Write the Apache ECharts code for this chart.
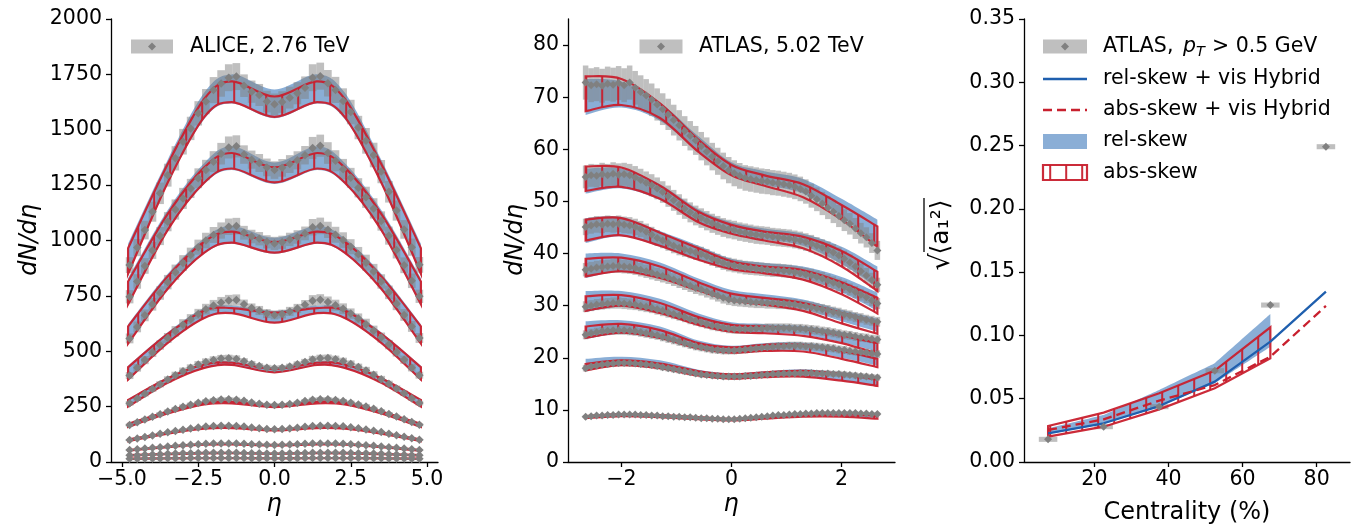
<!DOCTYPE html>
<html><head><meta charset="utf-8">
<script src="https://cdn.jsdelivr.net/npm/echarts@6/dist/echarts.min.js"></script>
<style>html,body{margin:0;padding:0;background:#fff}#c{width:1360px;height:525px}</style>
</head><body><div id="c"></div>
<script>
// ---------------- ALICE 2.76 TeV (left panel) ----------------
const etaAlice = [-4.75,-4.5,-4.25,-4,-3.75,-3.5,-3.25,-3,-2.75,-2.5,-2.25,-2,-1.75,-1.5,-1.25,-1,-0.75,-0.5,-0.25,0,
  0.25,0.5,0.75,1,1.25,1.5,1.75,2,2.25,2.5,2.75,3,3.25,3.5,3.75,4,4.25,4.5,4.75];
const aliceCentralities = ['0-5%','5-10%','10-20%','20-30%','30-40%','40-50%','50-60%','60-70%','70-80%','80-90%'];
const alice0005 = [889,968,1047,1130,1213,1295,1371,1446,1506,1574,1627,1679,1709,1735,1740,1699,1672,1657,1627,1615,
  1625,1645,1665,1690,1735,1742,1710,1680,1630,1580,1510,1450,1386,1311,1220,1135,1050,970,890];
const alice0510 = [746,815,885,955,1020,1085,1140,1190,1235,1281,1318,1356,1392,1420,1425,1388,1365,1350,1330,1318,
  1328,1345,1362,1385,1418,1428,1395,1360,1322,1283,1238,1195,1145,1088,1022,957,888,818,748];
const alice1020 = [558,610,662,712,763,812,857,898,935,970,1000,1025,1045,1062,1065,1035,1018,1008,994,987,
  992,1005,1016,1032,1060,1066,1048,1026,1002,972,938,900,860,815,766,714,664,612,560];
const alice2030 = [390,425,460,494,528,560,590,620,645,668,690,707,720,729,731,712,695,684,670,664,
  668,680,693,710,728,732,722,708,692,670,648,622,592,562,530,496,462,426,392];
const alice3040 = [265,287,308,330,351,372,392,410,426,440,452,461,467,468,465,455,443,433,426,423,
  425,431,441,452,463,468,469,464,455,443,429,413,394,374,353,332,310,288,266];
const alice4050 = [167,180,192,204,216,228,239,250,259,267,274,279,282,283,281,276,269,263,259,257,
  258,262,268,275,281,283,283,280,275,268,260,251,240,229,217,205,193,181,168];
const alice5060 = [99,106,113,120,127,134,140,146,151,156,160,162,164,164,163,160,156,152,149,148,
  149,151,155,159,162,164,164,163,161,157,152,147,141,135,128,121,114,107,100];
const alice6070 = [54,57,61,64,67,70,73,76,78,80,82,83,84,84,84,82,80,79,78,77,
  78,79,80,82,84,84,84,83,82,80,78,76,73,70,67,64,61,57,54];
const alice7080 = [30,31,33,34,35,37,38,39,40,41,42,42,42,42,42,41,40,39,38,38,
  38,39,40,41,42,42,42,42,42,41,40,39,38,37,35,34,33,31,30];
const alice8090 = [15,15,16,16,16,17,17,17,18,18,18,18,18,18,18,18,17,17,17,17,
  17,17,17,18,18,18,18,18,18,18,18,17,17,17,16,16,16,15,15];
const aliceSysRel = [0.04,0.04,0.04,0.04,0.04,0.04,0.04,0.04,0.035,0.035,0.035,0.035,0.035,0.035,0.035,0.03,0.03,0.03,0.03,0.03,
  0.03,0.03,0.03,0.03,0.035,0.035,0.035,0.035,0.035,0.035,0.035,0.04,0.04,0.04,0.04,0.04,0.04,0.04,0.04];

const etaModelAlice = [-4.8,-3.5,-2.3,-1.4,0,1.4,2.3,3.5,4.8];
const aliceAbsLo = [
  [850,1262,1558,1625,1558,1625,1558,1262,850],
  [712,1048,1262,1325,1262,1325,1262,1048,712],
  [535,782,945,990,945,990,945,782,535],
  [372,538,650,672,629,672,650,538,372],
  [250,358,425,438,405,438,425,358,250],
  [158,219,260,265,248,265,260,219,158],
  [94,128,150,153,143,153,150,128,94],
  [51,67,78,79,74,79,78,67,51],
  [29,35,39,40,37,40,39,35,29],
  [14,16,17,17,16,17,17,16,14]];
const aliceAbsHi = [
  [965,1345,1640,1718,1650,1718,1640,1345,965],
  [815,1120,1330,1395,1330,1395,1330,1120,815],
  [612,838,995,1040,993,1040,995,838,612],
  [428,578,684,695,674,695,684,578,428],
  [280,378,440,448,420,448,440,378,280],
  [172,228,268,272,255,272,268,228,172],
  [101,133,155,158,147,158,155,133,101],
  [54,70,81,82,77,82,81,70,54],
  [31,37,41,41,38,41,41,37,31],
  [15,17,18,18,17,18,18,17,15]];
const aliceRelLo = [
  [840,1255,1548,1618,1552,1618,1548,1255,840],
  [705,1042,1255,1318,1255,1318,1255,1042,705],
  [530,778,940,985,940,985,940,778,530],
  [368,535,647,670,626,670,647,535,368],
  [248,356,423,436,403,436,423,356,248],
  [157,218,259,264,247,264,259,218,157],
  [93,127,149,152,142,152,149,127,93],
  [50,66,77,78,73,78,77,66,50],
  [28,35,39,39,36,39,39,35,28],
  [14,16,17,17,16,17,17,16,14]];
const aliceRelHi = [
  [985,1365,1668,1750,1682,1750,1668,1365,985],
  [830,1138,1350,1425,1352,1425,1350,1138,830],
  [622,850,1010,1065,1012,1065,1010,850,622],
  [435,586,695,706,682,706,695,586,435],
  [284,383,447,455,428,455,447,383,284],
  [174,231,272,276,258,276,272,231,174],
  [102,135,157,160,149,160,157,135,102],
  [55,71,82,83,78,83,82,71,55],
  [31,38,42,42,39,42,42,38,31],
  [16,17,18,18,17,18,18,17,16]];

// ---------------- ATLAS 5.02 TeV (middle panel) ----------------
const etaAtlas = [-2.65,-2.55,-2.45,-2.35,-2.25,-2.15,-2.05,-1.95,-1.85,-1.75,
  -1.65,-1.55,-1.45,-1.35,-1.25,-1.15,-1.05,-0.95,-0.85,-0.75,
  -0.65,-0.55,-0.45,-0.35,-0.25,-0.15,-0.05,0.05,0.15,0.25,
  0.35,0.45,0.55,0.65,0.75,0.85,0.95,1.05,1.15,1.25,
  1.35,1.45,1.55,1.65,1.75,1.85,1.95,2.05,2.15,2.25,
  2.35,2.45,2.55,2.65];
const atlasCentralities = ['0-1%','1-5%','5-10%','10-20%','20-30%','30-40%','40-60%','60-90%'];
const atlas0001 = [72.8,72.3,72.5,72.2,72.6,72.4,72.7,72.3,72.8,71.8,
  71.0,70.3,69.5,68.6,67.7,66.7,65.6,64.6,63.5,62.6,
  61.7,60.6,59.6,58.6,57.7,56.8,56.0,55.4,54.9,54.5,
  54.3,54.1,53.9,53.8,53.6,53.5,53.3,53.1,52.8,52.4,
  51.9,51.1,50.4,49.6,48.8,48.0,47.2,46.4,45.7,44.8,
  43.9,43.1,42.0,40.6];
const atlas0105 = [54.7,55.0,54.9,55.2,55.0,55.3,55.1,55.2,55.0,54.6,
  54.1,53.6,53.1,52.5,51.8,51.0,50.2,49.4,48.6,47.9,
  47.3,46.8,46.3,45.8,45.4,45.0,44.7,44.5,44.2,44.0,
  43.8,43.6,43.5,43.4,43.2,43.1,43.0,42.9,42.7,42.5,
  42.2,41.9,41.5,41.1,40.7,40.2,39.6,39.0,38.3,37.5,
  36.6,35.8,34.9,34.0];
const atlas0510 = [45.1,45.4,45.6,45.5,45.7,45.6,45.7,45.5,45.4,45.1,
  44.7,44.2,43.6,43.0,42.5,42.0,41.5,41.1,40.8,40.5,
  40.2,39.9,39.5,39.0,38.6,38.2,37.9,37.7,37.5,37.3,
  37.2,37.1,37.0,36.9,36.8,36.8,36.7,36.6,36.4,36.2,
  36.0,35.8,35.5,35.2,34.8,34.4,34.0,33.6,33.1,32.6,
  32.1,31.6,31.0,30.4];
const atlas1020 = [36.9,37.1,37.3,37.4,37.5,37.6,37.6,37.5,37.4,37.2,
  36.9,36.6,36.3,36.0,35.7,35.4,35.0,34.6,34.2,33.8,
  33.4,33.1,32.7,32.3,31.9,31.5,31.2,31.0,30.9,30.8,
  30.7,30.6,30.6,30.5,30.5,30.4,30.4,30.3,30.2,30.0,
  29.9,29.7,29.5,29.3,29.1,28.8,28.6,28.3,28.1,27.8,
  27.6,27.3,27.1,26.9];
const atlas2030 = [29.8,30.0,30.2,30.3,30.4,30.5,30.5,30.4,30.3,30.2,
  30.0,29.8,29.6,29.3,29.0,28.7,28.4,28.1,27.8,27.4,
  27.1,26.8,26.5,26.2,26.0,25.8,25.6,25.5,25.5,25.5,
  25.5,25.6,25.6,25.7,25.7,25.7,25.7,25.7,25.6,25.6,
  25.5,25.4,25.3,25.1,25.0,24.8,24.6,24.4,24.3,24.1,
  23.9,23.8,23.6,23.5];
const atlas3040 = [24.4,24.7,24.9,25.1,25.2,25.3,25.3,25.3,25.2,25.1,
  24.9,24.7,24.5,24.3,24.0,23.7,23.4,23.1,22.8,22.5,
  22.2,22.0,21.8,21.6,21.5,21.4,21.4,21.4,21.5,21.6,
  21.7,21.8,21.9,22.0,22.1,22.2,22.2,22.3,22.3,22.3,
  22.2,22.2,22.1,22.0,21.9,21.8,21.6,21.5,21.3,21.2,
  21.1,21.0,20.8,20.7];
const atlas4060 = [18.0,18.3,18.5,18.7,18.8,18.9,19.0,19.0,19.0,18.9,
  18.8,18.7,18.6,18.4,18.2,18.0,17.8,17.6,17.4,17.2,
  17.0,16.8,16.7,16.6,16.5,16.4,16.4,16.4,16.4,16.5,
  16.5,16.6,16.7,16.8,16.9,16.9,17.0,17.0,17.0,17.1,
  17.1,17.1,17.0,17.0,17.0,16.9,16.9,16.8,16.7,16.6,
  16.5,16.4,16.3,16.2];
const atlas6090 = [8.7,8.8,8.9,8.9,9.0,9.0,9.1,9.1,9.1,9.1,
  9.0,9.0,8.9,8.9,8.8,8.8,8.7,8.7,8.6,8.6,
  8.5,8.4,8.4,8.3,8.3,8.2,8.2,8.2,8.3,8.4,
  8.5,8.6,8.7,8.8,8.9,9.0,9.0,9.1,9.2,9.2,
  9.3,9.3,9.4,9.4,9.4,9.4,9.4,9.4,9.4,9.4,
  9.3,9.3,9.2,9.2];
const atlasSysRel = [0.045,0.04,0.035,0.035,0.035,0.035,0.035,0.035];

const etaModelAtlas = [-2.65,-2,-1.3,-0.6,0,0.6,1.3,2,2.65];
const atlasAbsLo = [
  [67.3,68.5,66.0,59.5,55.0,53.0,50.8,46.5,41.3],
  [52.0,52.8,50.5,46.0,43.8,42.5,41.0,37.5,32.8],
  [42.5,43.5,41.5,38.8,37.0,36.2,35.0,32.2,28.5],
  [35.6,36.6,35.3,32.9,31.0,30.2,29.0,26.6,24.6],
  [29.0,30.0,28.6,26.3,25.0,24.7,24.2,22.8,20.8],
  [23.8,24.8,23.8,21.8,21.0,21.3,21.2,19.8,18.2],
  [17.6,18.6,18.0,16.6,16.0,16.3,16.4,15.6,14.6],
  [8.4,8.8,8.6,8.2,8.0,8.3,8.7,8.7,8.3]];
const atlasAbsHi = [
  [74.0,73.5,68.8,61.8,57.0,55.0,53.3,49.3,45.2],
  [56.7,56.5,53.0,48.0,45.5,44.2,43.2,40.5,36.5],
  [46.5,46.8,44.0,41.0,38.5,37.5,36.8,34.5,31.5],
  [39.0,39.2,37.5,34.5,32.3,31.5,30.5,28.6,26.8],
  [31.8,32.0,30.5,27.8,26.3,26.0,25.5,24.3,22.8],
  [26.0,26.5,25.3,22.8,22.0,22.5,22.5,21.3,19.8],
  [18.8,19.5,18.9,17.4,16.8,17.2,17.5,16.9,15.8],
  [8.8,9.2,9.0,8.6,8.3,8.7,9.1,9.2,8.9]];
const atlasRelLo = [
  [66.6,68.0,65.5,59.5,55.0,53.2,51.5,47.0,41.5],
  [51.5,52.5,50.3,46.0,43.8,42.7,41.5,38.0,33.5],
  [42.0,43.3,41.3,38.8,37.0,36.3,35.3,32.5,29.0],
  [35.3,36.5,35.2,32.9,31.0,30.3,29.3,27.0,25.0],
  [28.8,29.8,28.5,26.3,25.0,24.8,24.4,23.0,21.2],
  [23.6,24.6,23.7,21.8,21.0,21.4,21.4,20.0,18.5],
  [17.5,18.5,17.9,16.6,16.0,16.4,16.5,15.7,14.6],
  [8.4,8.7,8.5,8.2,8.0,8.3,8.7,8.8,8.5]];
const atlasRelHi = [
  [73.5,73.0,69.0,62.5,57.5,55.8,54.3,50.5,46.5],
  [56.3,56.3,53.3,48.5,46.0,44.8,43.8,41.3,37.5],
  [46.8,47.0,44.3,41.5,39.0,38.2,37.5,35.5,32.5],
  [40.0,40.0,38.3,35.2,33.0,32.2,31.2,29.2,27.5],
  [32.8,32.8,31.3,28.5,26.8,26.5,26.1,25.0,23.6],
  [27.0,27.2,26.0,23.3,22.3,22.8,22.9,21.9,20.6],
  [19.8,20.2,19.5,17.7,17.0,17.4,17.8,17.2,16.4],
  [8.9,9.3,9.1,8.7,8.4,8.8,9.2,9.4,9.2]];

// ---------------- sqrt<a1^2> vs centrality (right panel) ----------------
const centData = [7.5,22.5,37.5,52.5,67.5,82.5];
const a1Data = [0.0179,0.0279,0.0437,0.0721,0.1240,0.2491];
const a1Sys = [0.002,0.002,0.002,0.002,0.002,0.002];
const centBand = [7.5,22.5,37.5,52.5,67.5];
const a1RelLo = [0.0221,0.0300,0.0437,0.0622,0.0911];
const a1RelHi = [0.0266,0.0371,0.0569,0.0780,0.1169];
const a1AbsLo = [0.0200,0.0279,0.0416,0.0582,0.0819];
const a1AbsHi = [0.0284,0.0390,0.0543,0.0722,0.1064];
const centLine = [7.5,22.5,37.5,52.5,67.5,82.5];
const a1RelVis = [0.0226,0.0306,0.0442,0.0635,0.0951,0.1346];
const a1AbsVis = [0.0253,0.0337,0.0485,0.0608,0.0832,0.1233];

// ---------------- ticks ----------------
const aliceXTicks = [-5,-2.5,0,2.5,5];
const aliceYTicks = [0,250,500,750,1000,1250,1500,1750,2000];
const atlasXTicks = [-2,0,2];
const atlasYTicks = [0,10,20,30,40,50,60,70,80];
const centXTicks = [20,40,60,80];
const a1YTicks = [0,0.05,0.1,0.15,0.2,0.25,0.3,0.35];

// ---------------- styling ----------------
const FONT = 'DejaVu Sans';
const RED = '#c8202e';
const BLUE_LINE = '#1f5fae';
const BLUE_FILL = 'rgba(31,99,176,0.52)';
const GRAY_BOX = 'rgba(128,128,128,0.5)';
const GRAY = '#808080';
const TICK_FS = 20.5;

function hatchCanvas() {
  const c = document.createElement('canvas');
  c.width = 16; c.height = 16;
  const g = c.getContext('2d');
  g.fillStyle = RED;
  g.fillRect(9.2, 0, 2, 16);
  return c;
}
const HATCH = { image: hatchCanvas(), repeat: 'repeat' };

const minus = s => String(s).replace('-', '\u2212');

function xAx(gi, min, max, ticks, fmt) {
  return { type:'value', gridIndex:gi, min, max,
    axisLine:{ show:true, onZero:false, lineStyle:{ color:'#000', width:1.3 } },
    axisTick:{ show:true, length:5, customValues:ticks, lineStyle:{ color:'#000', width:1.3 } },
    axisLabel:{ customValues:ticks, formatter:fmt, color:'#000', fontSize:TICK_FS, fontFamily:FONT, margin:7 },
    splitLine:{ show:false } };
}
function yAx(gi, min, max, ticks, fmt) {
  return { type:'value', gridIndex:gi, min, max,
    axisLine:{ show:true, onZero:false, lineStyle:{ color:'#000', width:1.3 } },
    axisTick:{ show:true, length:5, customValues:ticks, lineStyle:{ color:'#000', width:1.3 } },
    axisLabel:{ customValues:ticks, formatter:fmt, color:'#000', fontSize:TICK_FS, fontFamily:FONT, margin:9 },
    splitLine:{ show:false } };
}

function curvePath(pts, t) {
  let d = '';
  for (let i = 0; i < pts.length - 1; i++) {
    const p0 = pts[Math.max(i - 1, 0)], p1 = pts[i], p2 = pts[i + 1], p3 = pts[Math.min(i + 2, pts.length - 1)];
    const c1 = [p1[0] + (p2[0] - p0[0]) * t, p1[1] + (p2[1] - p0[1]) * t];
    const c2 = [p2[0] - (p3[0] - p1[0]) * t, p2[1] - (p3[1] - p1[1]) * t];
    d += ' C' + c1[0].toFixed(2) + ',' + c1[1].toFixed(2) + ' ' + c2[0].toFixed(2) + ',' + c2[1].toFixed(2) + ' ' + p2[0].toFixed(2) + ',' + p2[1].toFixed(2);
  }
  return d;
}

function band(gi, xs, lo, hi, kind, smooth, z) {
  const t = smooth ? 1 / 6 : 0;
  return { type:'custom', xAxisIndex:gi, yAxisIndex:gi, z, silent:true, clip:true,
    data: xs.map((x, i) => [x, lo[i], hi[i]]),
    encode:{ x:0, y:[1, 2] },
    renderItem:(params, api) => {
      if (params.dataIndex !== 0) return;
      const top = xs.map((x, i) => api.coord([x, hi[i]]));
      const bot = xs.map((x, i) => api.coord([x, lo[i]])).reverse();
      const d = 'M' + top[0][0] + ',' + top[0][1] + curvePath(top, t) +
        ' L' + bot[0][0] + ',' + bot[0][1] + curvePath(bot, t) + ' Z';
      const style = kind === 'rel'
        ? { fill: BLUE_FILL, stroke: null }
        : { fill: HATCH, stroke: RED, lineWidth: 2.2, opacity: 0.95 };
      return { type:'path', shape:{ pathData:d }, style };
    } };
}

function boxes(gi, xs, ys, errs, hw, z) {
  return { type:'custom', xAxisIndex:gi, yAxisIndex:gi, z, silent:true, clip:true,
    data: xs.map((x, i) => [x, ys[i], errs[i]]),
    encode:{ x:0, y:1 },
    renderItem:(params, api) => {
      const x = api.value(0), y = api.value(1), e = api.value(2);
      const a = api.coord([x - hw, y + e]), b = api.coord([x + hw, y - e]);
      return { type:'rect', shape:{ x:a[0], y:a[1], width:b[0] - a[0], height:b[1] - a[1] }, style:{ fill:GRAY_BOX } };
    } };
}

function points(gi, xs, ys, size, z) {
  return { type:'scatter', xAxisIndex:gi, yAxisIndex:gi, z, silent:true,
    symbol:'diamond', symbolSize:size, itemStyle:{ color:GRAY, opacity:1 },
    data: xs.map((x, i) => [x, ys[i]]) };
}

const series = [];
// left panel
const aliceData = [alice0005,alice0510,alice1020,alice2030,alice3040,alice4050,alice5060,alice6070,alice7080,alice8090];
aliceData.forEach((ys, k) => {
  series.push(band(0, etaModelAlice, aliceRelLo[k], aliceRelHi[k], 'rel', true, 1));
});
aliceData.forEach((ys, k) => {
  series.push(boxes(0, etaAlice, ys, ys.map((v, i) => v * aliceSysRel[i]), 0.125, 2));
});
aliceData.forEach((ys, k) => {
  series.push(band(0, etaModelAlice, aliceAbsLo[k], aliceAbsHi[k], 'abs', true, 3));
});
aliceData.forEach((ys, k) => { series.push(points(0, etaAlice, ys, 8.5, 5)); });

// middle panel
const atlasData = [atlas0001,atlas0105,atlas0510,atlas1020,atlas2030,atlas3040,atlas4060,atlas6090];
atlasData.forEach((ys, k) => {
  series.push(band(1, etaModelAtlas, atlasRelLo[k], atlasRelHi[k], 'rel', true, 1));
});
atlasData.forEach((ys, k) => {
  series.push(boxes(1, etaAtlas, ys, ys.map(v => v * atlasSysRel[k]), 0.05, 2));
});
atlasData.forEach((ys, k) => {
  series.push(band(1, etaModelAtlas, atlasAbsLo[k], atlasAbsHi[k], 'abs', true, 3));
});
atlasData.forEach((ys, k) => { series.push(points(1, etaAtlas, ys, 8, 5)); });

// right panel
series.push(band(2, centBand, a1RelLo, a1RelHi, 'rel', false, 1));
series.push(boxes(2, centData, a1Data, a1Sys, 2.5, 2));
series.push(band(2, centBand, a1AbsLo, a1AbsHi, 'abs', false, 3));
series.push({ type:'line', xAxisIndex:2, yAxisIndex:2, z:4, silent:true, showSymbol:false,
  lineStyle:{ color:BLUE_LINE, width:2.3 }, data: centLine.map((x, i) => [x, a1RelVis[i]]) });
series.push({ type:'line', xAxisIndex:2, yAxisIndex:2, z:4, silent:true, showSymbol:false,
  lineStyle:{ color:RED, width:2.3, type:[9,5] }, data: centLine.map((x, i) => [x, a1AbsVis[i]]) });
series.push(points(2, centData, a1Data, 8, 5));

// ---------------- legends & axis titles (graphic) ----------------
function diamond(cx, cy, r) {
  return { type:'polygon', shape:{ points:[[cx, cy - r],[cx + r, cy],[cx, cy + r],[cx - r, cy]] }, style:{ fill:GRAY } };
}
function txt(x, y, text, font, extra) {
  return Object.assign({ type:'text', x, y, style:{ text, font, fill:'#000',
    textAlign:'left', align:'left', textVerticalAlign:'middle', verticalAlign:'middle' } }, extra || {});
}
function ctxt(x, y, text, font, rot) {
  return { type:'text', x, y, rotation:rot || 0, style:{ text, font, fill:'#000',
    textAlign:'center', align:'center', textVerticalAlign:'middle', verticalAlign:'middle' } };
}
const F = TICK_FS + 'px "DejaVu Sans"';
const graphic = [
  { type:'rect', shape:{ x:131, y:39.5, width:42, height:14 }, style:{ fill:GRAY_BOX } },
  diamond(152, 46.5, 4),
  txt(190, 46.5, 'ALICE, 2.76 TeV', F),
  { type:'rect', shape:{ x:639.5, y:39.5, width:43, height:14 }, style:{ fill:GRAY_BOX } },
  diamond(661, 46.5, 4),
  txt(699, 46.5, 'ATLAS, 5.02 TeV', F),
  // right legend
  { type:'rect', shape:{ x:1043, y:39.5, width:44, height:14 }, style:{ fill:GRAY_BOX } },
  diamond(1065, 46.5, 4),
  txt(1103, 46.5, 'ATLAS,', F),
  txt(1183, 46.5, 'p', 'italic ' + F),
  txt(1196, 52, 'T', 'italic 14.5px "DejaVu Sans"'),
  txt(1212, 46.5, '> 0.5 GeV', F),
  { type:'line', shape:{ x1:1043, y1:79, x2:1087, y2:79 }, style:{ stroke:BLUE_LINE, lineWidth:2.3 } },
  txt(1103, 79, 'rel-skew + vis Hybrid', F),
  { type:'line', shape:{ x1:1043, y1:110, x2:1087, y2:110 }, style:{ stroke:RED, lineWidth:2.3, lineDash:[9,5] } },
  txt(1103, 110, 'abs-skew + vis Hybrid', F),
  { type:'rect', shape:{ x:1043, y:134, width:44, height:15 }, style:{ fill:BLUE_FILL } },
  txt(1103, 141, 'rel-skew', F),
  { type:'rect', shape:{ x:1043, y:165, width:44, height:15 }, style:{ fill:HATCH, stroke:RED, lineWidth:2.2, opacity:0.95 } },
  txt(1103, 172.5, 'abs-skew', F),
  // axis titles
  ctxt(30, 240, 'dN/d\u03b7', 'italic 24px "DejaVu Sans"', Math.PI / 2),
  ctxt(516, 240, 'dN/d\u03b7', 'italic 24px "DejaVu Sans"', Math.PI / 2),
  ctxt(941, 227, '\u27e8a\u2081\u00b2\u27e9', '25px "DejaVu Sans"', Math.PI / 2),
  ctxt(942, 262, '\u221a', '27px "DejaVu Sans"', Math.PI / 2),
  { type:'line', shape:{ x1:924, y1:252, x2:924, y2:198 }, style:{ stroke:'#000', lineWidth:1.3 } },
  ctxt(274, 505, '\u03b7', 'italic 24px "DejaVu Sans"'),
  ctxt(731, 505, '\u03b7', 'italic 24px "DejaVu Sans"'),
  ctxt(1187, 513, 'Centrality (%)', '24px "DejaVu Sans"')
];

const chart = echarts.init(document.getElementById('c'), null, { renderer:'canvas' });
chart.setOption({
  animation:false,
  backgroundColor:'#fff',
  textStyle:{ fontFamily:FONT },
  grid:[
    { left:111, top:19, width:327, height:443, containLabel:false },
    { left:568, top:19, width:327, height:443, containLabel:false },
    { left:1024, top:19, width:326, height:443, containLabel:false }
  ],
  xAxis:[
    xAx(0, -5.36, 5.36, aliceXTicks, v => minus(v.toFixed(1))),
    xAx(1, -2.97, 2.97, atlasXTicks, v => minus(v)),
    xAx(2, 1, 89, centXTicks, v => String(v))
  ],
  yAxis:[
    yAx(0, 0, 2000, aliceYTicks, v => String(v)),
    yAx(1, 0, 85, atlasYTicks, v => String(v)),
    yAx(2, 0, 0.35, a1YTicks, v => v.toFixed(2))
  ],
  series,
  graphic
});
</script></body></html>
